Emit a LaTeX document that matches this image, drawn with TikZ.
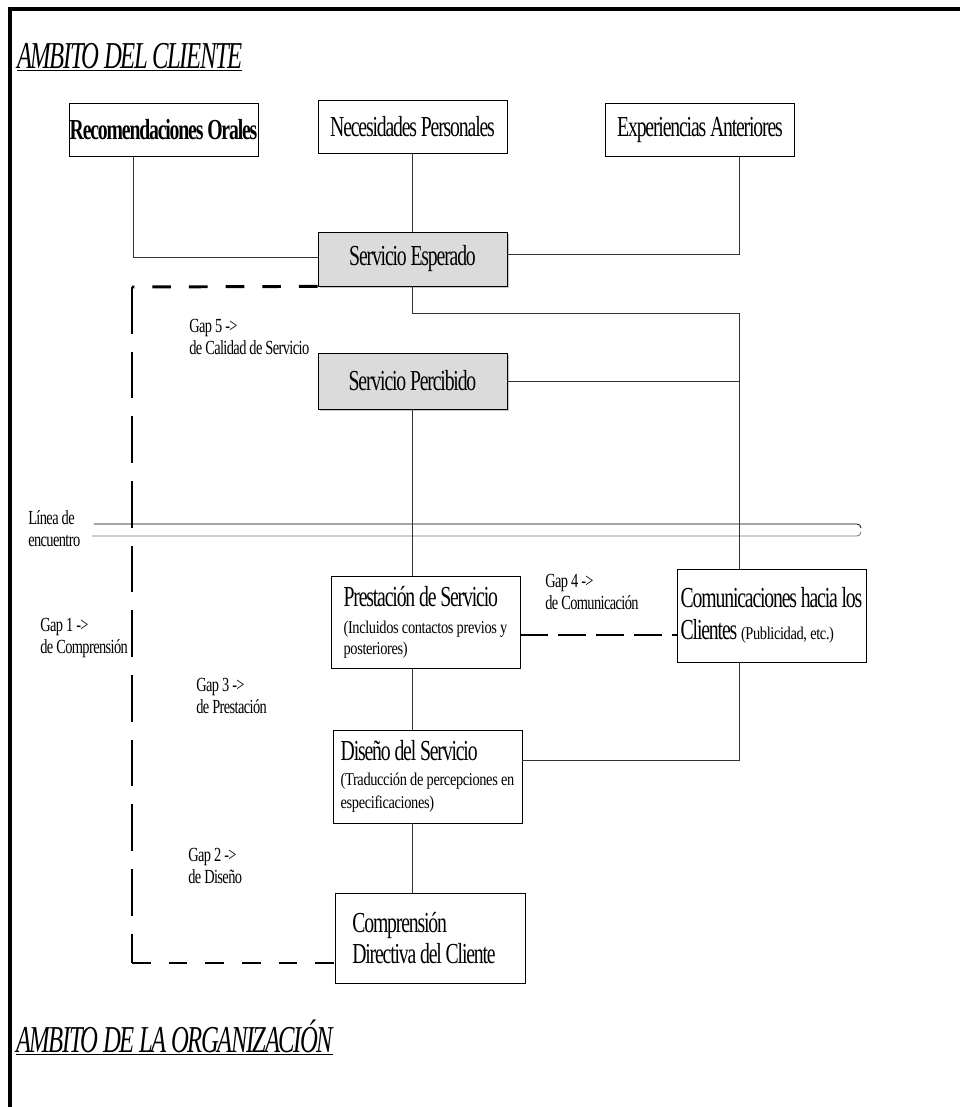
\documentclass[tikz,border=0pt]{standalone}
\usepackage{fontspec}
\setmainfont{Liberation Serif}
\newfontfamily\cajafont[FakeStretch=0.68,LetterSpace=-4]{Liberation Serif}
\newfontfamily\titfont[FakeStretch=0.65,LetterSpace=-4]{Liberation Serif}
\newfontfamily\notafont[FakeStretch=0.72,LetterSpace=-3]{Liberation Serif}
\newfontfamily\chicafont[FakeStretch=0.8,LetterSpace=-2]{Liberation Serif}
\usetikzlibrary{shadows}

\newcommand{\grande}{\cajafont\fontsize{21.75}{24}\selectfont}
\newcommand{\chica}{\chicafont\fontsize{13.5}{15.75}\selectfont}
\newcommand{\nota}{\notafont\fontsize{15}{16.5}\selectfont}
\newcommand{\titulo}{\titfont\itshape\fontsize{28.5}{30}\selectfont}

\tikzset{
  caja/.style={draw, line width=0.6pt, minimum width=141.75pt, inner sep=0pt, align=left},
  gris/.style={caja, fill=black!14,
    drop shadow={shadow xshift=1.5pt, shadow yshift=-1.5pt, fill=black!22, opacity=1}},
  conector/.style={line width=0.6pt, draw=black!80},
  gap/.style={line width=2.2pt, dash pattern=on 14pt off 13.5pt},
  gapv/.style={line width=2.2pt, dash pattern=on 35pt off 13.5pt},
  gapc/.style={line width=2.2pt, dash pattern=on 21pt off 7.5pt},
  etiqueta/.style={anchor=north west, inner sep=0pt, align=left, font=\nota},
}

\begin{document}
\begin{tikzpicture}[x=0.75pt,y=-0.75pt]
  \useasboundingbox (0,0) rectangle (960,1107);
  \draw[line width=2.3pt] (960,9) -- (10,9) -- (10,1107); % marco

  % titulos
  \node[anchor=base west, inner sep=0pt, font=\titulo] (tcli) at (17,68) {\underline{AMBITO DEL CLIENTE}};
  \node[anchor=base west, inner sep=0pt, font=\titulo] (torg) at (16,1052) {\underline{AMBITO DE LA ORGANIZACIÓN}};

  % ambito del cliente
  \node[caja, minimum height=39.75pt, font=\bfseries\grande] (rec) at (163.5,129.5) {Recomendaciones Orales};
  \node[caja, minimum height=39.75pt, font=\grande] (nec) at (412.5,126.5) {Necesidades Personales};
  \node[caja, minimum height=39.75pt, font=\grande] (exp) at (700,129.5) {Experiencias Anteriores};
  \node[gris, minimum height=40.5pt, font=\grande] (esp) at (412.5,259) {Servicio Esperado};
  \node[gris, minimum height=42pt, font=\grande] (per) at (412.5,381) {Servicio Percibido};

  % ambito de la organizacion
  \node[caja, minimum height=69pt, font=\chica] (pre) at (425.5,622)
    {{\grande Prestación de Servicio}\\[4.5pt](Incluidos contactos previos y\\posteriores)};
  \node[caja, minimum height=69.75pt, font=\grande] (com) at (771.5,615.5)
    {Comunicaciones hacia los\\Clientes {\chica (Publicidad, etc.)}};
  \node[caja, minimum height=69.75pt, font=\chicafont\fontsize{13.5}{17.25}\selectfont] (dis) at (427.5,776.5)
    {{\grande Diseño del Servicio}\\[1.5pt](Traducción de percepciones en\\especificaciones)};
  \node[caja, minimum width=142.5pt, minimum height=67.5pt, font=\cajafont\fontsize{21.75}{23.25}\selectfont] (cdc) at (430,938)
    {Comprensión\\Directiva del Cliente\hspace*{9pt}};

  % linea de encuentro
  \draw[line width=0.6pt] (94,524) -- (857,524) to[out=0,in=90] (861,528);
  \draw[line width=0.6pt, black!55] (92,536) -- (857,536) to[out=0,in=-90] (861,532);
  \node[etiqueta] (lin) at (28,510) {Línea de\\encuentro};

  % conectores
  \coordinate (bus) at (739,313);
  \draw[conector] ([xshift=-22.9pt]rec.south) |- ([yshift=1.5pt]esp.west);
  \draw[conector] (nec) -- (esp);
  \draw[conector] (exp.south -| bus) |- ([yshift=3.75pt]esp.east);
  \draw[conector] (esp.south) |- (bus) -- (bus |- com.north);
  \draw[conector] (per.east) -- (per.east -| bus);
  \draw[conector] (per.south) -- (per.south |- pre.north);
  \draw[conector] (pre.south -| per.south) -- (per.south |- dis.north);
  \draw[conector] ([yshift=12pt]dis.east) -| (com.south -| bus);
  \draw[conector] (dis.south -| per.south) -- (per.south |- cdc.north);

  % gaps
  \coordinate (gapsup) at (132,287);
  \coordinate (gapinf) at (132,963);
  \draw[gap] (esp.south west) -- (gapsup);
  \draw[gapv] (gapsup) -- (gapinf);
  \draw[gap] (gapinf) -- (gapinf -| cdc.west);
  \draw[gapc] ([yshift=-9.75pt]pre.east) -- ([yshift=-9.75pt]pre.east -| com.west);
  \node[etiqueta] (g5) at (189,319) {Gap 5 ->\\de Calidad de Servicio};
  \node[etiqueta] (g1) at (40,618) {Gap 1 ->\\de Comprensión};
  \node[etiqueta] (g3) at (196,678) {Gap 3 ->\\de Prestación};
  \node[etiqueta] (g4) at (545,574) {Gap 4 ->\\de Comunicación};
  \node[etiqueta] (g2) at (188,848) {Gap 2 ->\\de Diseño};
\end{tikzpicture}
\end{document}
